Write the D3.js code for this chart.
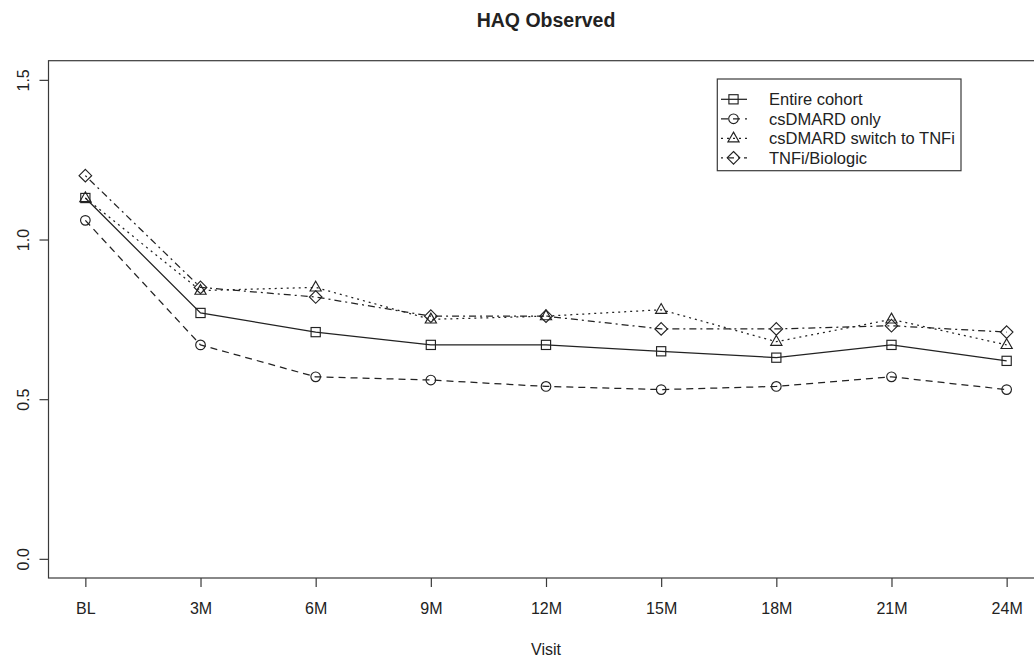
<!DOCTYPE html>
<html>
<head>
<meta charset="utf-8">
<script src="https://cdn.jsdelivr.net/npm/d3@7"></script>
<style>
  html, body { margin: 0; padding: 0; background: #fff; }
  svg { display: block; font-family: "Liberation Sans", Arial, Helvetica, sans-serif; }
</style>
</head>
<body>
<svg id="chart" width="1034" height="658"></svg>
<script>
// Visits and mean HAQ score per group
const visits = ["BL", "3M", "6M", "9M", "12M", "15M", "18M", "21M", "24M"];
const entireCohort = [1.13, 0.77, 0.71, 0.67, 0.67, 0.65, 0.63, 0.67, 0.62];
const csdmardOnly = [1.06, 0.67, 0.57, 0.56, 0.54, 0.53, 0.54, 0.57, 0.53];
const csdmardSwitch = [1.13, 0.84, 0.85, 0.75, 0.76, 0.78, 0.68, 0.75, 0.67];
const tnfiBiologic = [1.20, 0.85, 0.82, 0.76, 0.76, 0.72, 0.72, 0.73, 0.71];
const yTicks = [0.0, 0.5, 1.0, 1.5];
const seriesNames = ["Entire cohort", "csDMARD only", "csDMARD switch to TNFi", "TNFi/Biologic"];

const series = [
  { name: seriesNames[0], values: entireCohort, dash: null, shape: "square" },
  { name: seriesNames[1], values: csdmardOnly, dash: "7,5", shape: "circle" },
  { name: seriesNames[2], values: csdmardSwitch, dash: "2,4", shape: "triangle" },
  { name: seriesNames[3], values: tnfiBiologic, dash: "2,4,7,4", shape: "diamond" }
];

const svg = d3.select("#chart");
const ink = "#222";
const frame = "#3a3a3a";

const box = { left: 48.5, right: 1043.5, top: 60.7, bottom: 578 };

// x positions: visit index 1..9 with 4% padding on each side
const x = d3.scaleLinear().domain([0.68, 9.32]).range([box.left, box.right]);
const y = d3.scaleLinear().domain([-0.06, 1.56]).range([box.bottom, box.top]);

// Plot frame
svg.append("rect")
  .attr("x", box.left).attr("y", box.top)
  .attr("width", box.right - box.left).attr("height", box.bottom - box.top)
  .attr("fill", "none").attr("stroke", frame).attr("stroke-width", 1.2);

// Bottom axis
const xAxis = d3.axisBottom(x)
  .tickValues(d3.range(1, visits.length + 1))
  .tickFormat(i => visits[i - 1])
  .tickSize(9).tickPadding(8);
const gx = svg.append("g").attr("transform", `translate(0,${box.bottom})`).call(xAxis);
gx.select(".domain").remove();
gx.selectAll("line").attr("stroke", frame).attr("stroke-width", 1.2);
gx.selectAll("text").attr("font-size", 16).attr("fill", ink)
  .attr("y", 24).attr("dy", "0.72em");

// Left axis with rotated labels
const yAxis = d3.axisLeft(y).tickValues(yTicks).tickFormat(d3.format(".1f")).tickSize(9);
const gy = svg.append("g").attr("transform", `translate(${box.left},0)`).call(yAxis);
gy.select(".domain").remove();
gy.selectAll("line").attr("stroke", frame).attr("stroke-width", 1.2);
gy.selectAll("text")
  .attr("font-size", 16).attr("fill", ink)
  .attr("x", null).attr("dy", null)
  .attr("text-anchor", "middle")
  .attr("transform", "translate(-20,0) rotate(-90)")
  .attr("y", 0);

// Title and axis title
svg.append("text")
  .attr("x", (box.left + box.right) / 2).attr("y", 26.7)
  .attr("text-anchor", "middle").attr("font-size", 19.5).attr("font-weight", "bold")
  .attr("fill", ink).text("HAQ Observed");
svg.append("text")
  .attr("x", (box.left + box.right) / 2).attr("y", 655)
  .attr("text-anchor", "middle").attr("font-size", 16).attr("fill", ink).text("Visit");

// Open plotting symbols
function drawMarker(g, shape, cx, cy) {
  const common = s => s.attr("fill", "none").attr("stroke", ink).attr("stroke-width", 1.15);
  if (shape === "square") {
    common(g.append("rect").attr("x", cx - 4.6).attr("y", cy - 4.6).attr("width", 9.2).attr("height", 9.2));
  } else if (shape === "circle") {
    common(g.append("circle").attr("cx", cx).attr("cy", cy).attr("r", 4.8));
  } else if (shape === "triangle") {
    const p = [[cx, cy - 6.2], [cx + 5.6, cy + 3.6], [cx - 5.6, cy + 3.6]];
    common(g.append("path").attr("d", "M" + p.join("L") + "Z"));
  } else if (shape === "diamond") {
    const p = [[cx, cy - 6.3], [cx + 6.3, cy], [cx, cy + 6.3], [cx - 6.3, cy]];
    common(g.append("path").attr("d", "M" + p.join("L") + "Z"));
  }
}

const line = d3.line().x((d, i) => x(i + 1)).y(d => y(d));

series.forEach(s => {
  const g = svg.append("g");
  g.append("path")
    .attr("d", line(s.values))
    .attr("fill", "none").attr("stroke", ink).attr("stroke-width", 1.25)
    .attr("stroke-dasharray", s.dash);
  s.values.forEach((v, i) => drawMarker(g, s.shape, x(i + 1), y(v)));
});

// Legend
const legend = { left: 717.3, top: 79, right: 961, bottom: 170.7 };
svg.append("rect")
  .attr("x", legend.left).attr("y", legend.top)
  .attr("width", legend.right - legend.left).attr("height", legend.bottom - legend.top)
  .attr("fill", "#fff").attr("stroke", frame).attr("stroke-width", 1.2);

series.forEach((s, i) => {
  const cy = 99.3 + i * 19.5;
  const g = svg.append("g");
  g.append("line")
    .attr("x1", 721).attr("x2", 747).attr("y1", cy).attr("y2", cy)
    .attr("stroke", ink).attr("stroke-width", 1.25).attr("stroke-dasharray", s.dash);
  drawMarker(g, s.shape, 733.5, cy);
  g.append("text")
    .attr("x", 769).attr("y", cy).attr("dy", "0.36em")
    .attr("font-size", 16.5).attr("fill", ink).text(s.name);
});
</script>
</body>
</html>
